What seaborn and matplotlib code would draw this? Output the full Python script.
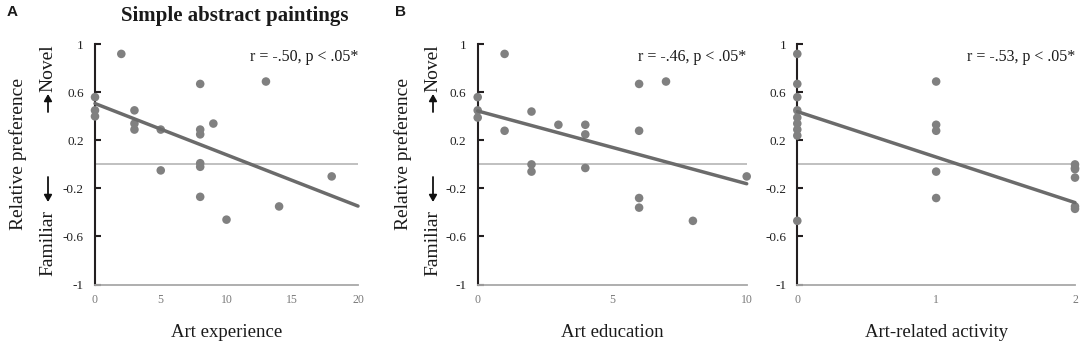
import numpy as np
import pandas as pd
import matplotlib
matplotlib.use("Agg")
import matplotlib.pyplot as plt
import seaborn as sns

# ---------------- data ----------------
exp_x = [0, 0, 0, 2, 3, 3, 3, 5, 5, 8, 8, 8, 8, 8, 8, 9, 10, 13, 14, 18]
exp_y = [0.56, 0.45, 0.40, 0.92, 0.45, 0.34, 0.29, 0.29, -0.05, 0.67,
         0.29, 0.25, 0.01, -0.02, -0.27, 0.34, -0.46, 0.69, -0.35, -0.10]

edu_x = [0, 0, 0, 1, 1, 2, 2, 2, 3, 4, 4, 4, 6, 6, 6, 6, 7, 8, 10]
edu_y = [0.56, 0.45, 0.39, 0.92, 0.28, 0.44, 0.00, -0.06, 0.33, 0.33,
         0.25, -0.03, 0.67, 0.28, -0.28, -0.36, 0.69, -0.47, -0.10]

act_x = [0, 0, 0, 0, 0, 0, 0, 0, 0, 1, 1, 1, 1, 1, 2, 2, 2, 2, 2, 2]
act_y = [0.92, 0.67, 0.56, 0.45, 0.39, 0.34, 0.29, 0.24, -0.47,
         0.69, 0.33, 0.28, -0.06, -0.28,
         0.00, -0.03, -0.04, -0.11, -0.35, -0.37]

fit_intercepts = [0.507, 0.445, 0.44]
fit_slopes = [-0.0427, -0.0606, -0.379]

x_labels = ["Art experience", "Art education", "Art-related activity"]
stat_labels = ["r = -.50, p < .05*", "r = -.46, p < .05*", "r = -.53, p < .05*"]
x_ticks = [[0, 5, 10, 15, 20], [0, 5, 10], [0, 1, 2]]
y_ticks = [-1, -0.6, -0.2, 0.2, 0.6, 1]
y_ticklabels = ["-1", "-0.6", "-0.2", "0.2", "0.6", "1"]
title = "Simple abstract paintings"
panel_letters = ["A", "B"]

# ---------------- style ----------------
sns.set_theme(style="white")
plt.rcParams["font.family"] = ["Liberation Serif", "DejaVu Serif"]

W, H = 1084, 343
fig = plt.figure(figsize=(W / 100, H / 100), dpi=100)

def fx(px):
    return px / W

def fy(py):
    return 1 - py / H

top_px, bot_px = 44.3, 284.5
axes_px = [(95, 358), (477.7, 746.7), (797.3, 1075)]

point_color = "#808080"
line_color = "#6b6b6b"

datasets = [(exp_x, exp_y), (edu_x, edu_y), (act_x, act_y)]

for i, ((xs, ys), (l, r)) in enumerate(zip(datasets, axes_px)):
    ax = fig.add_axes([fx(l), fy(bot_px), fx(r - l), (bot_px - top_px) / H])
    xmin, xmax = x_ticks[i][0], x_ticks[i][-1]
    ax.set_xlim(xmin, xmax)
    ax.set_ylim(-1, 1)
    ax.axhline(0, color="#b5b5b5", lw=1.2, zorder=1)
    df = pd.DataFrame({"x": xs, "y": ys})
    sns.scatterplot(data=df, x="x", y="y", ax=ax, color=point_color, s=38,
                    edgecolor="none", clip_on=False, zorder=3, legend=False)
    line_x = np.array([xmin, xmax], dtype=float)
    line_df = pd.DataFrame({"x": line_x, "y": fit_intercepts[i] + fit_slopes[i] * line_x})
    sns.lineplot(data=line_df, x="x", y="y", ax=ax, color=line_color, lw=2.5,
                 zorder=4, clip_on=False)
    for s in ["top", "right"]:
        ax.spines[s].set_visible(False)
    ax.spines["left"].set_color("#231f20")
    ax.spines["left"].set_linewidth(1.5)
    ax.spines["bottom"].set_color("#a8a8a8")
    ax.spines["bottom"].set_linewidth(1.3)
    ax.set_yticks(y_ticks)
    ax.set_yticklabels(y_ticklabels)
    ax.set_xticks(x_ticks[i])
    ax.tick_params(axis="y", direction="in", length=4, width=1.5, color="#231f20",
                   labelsize=9.5, pad=8, left=True, labelcolor="#222222")
    ax.tick_params(axis="x", length=0, labelsize=8.5, pad=7, labelcolor="#7a7a7a")
    ax.set_xlabel(x_labels[i], fontsize=13.5, labelpad=13, color="#1a1a1a")
    ax.set_ylabel("")
    ax.text(1.0, 0.947, stat_labels[i], transform=ax.transAxes, ha="right",
            va="center", fontsize=11.5, color="#1a1a1a")
    ax.set_facecolor("none")

# title and panel letters
fig.text(fx(235), fy(16), title, ha="center", va="center", fontsize=15,
         fontweight="bold", color="#1a1a1a")
for letter, px in zip(panel_letters, [12, 401]):
    fig.text(fx(px), fy(12), letter, ha="center", va="center", fontsize=11,
             fontweight="bold", family="Liberation Sans", color="#1a1a1a")

# rotated y labels with arrows for the first two panels
for lab_x, side_x in [(18, 48), (402.7, 433)]:
    fig.text(fx(lab_x), fy(154), "Relative preference", rotation=90,
             ha="center", va="center", fontsize=14, color="#1a1a1a")
    fig.text(fx(side_x), fy(68), "Novel", rotation=90, ha="center",
             va="center", fontsize=14, color="#1a1a1a")
    fig.text(fx(side_x), fy(243), "Familiar", rotation=90, ha="center",
             va="center", fontsize=14, color="#1a1a1a")
    fig.add_artist(matplotlib.patches.FancyArrowPatch(
        (fx(side_x), fy(112)), (fx(side_x), fy(94)), transform=fig.transFigure,
        arrowstyle="-|>,head_length=4,head_width=2.3", lw=1.3, color="#111111",
        shrinkA=0, shrinkB=0))
    fig.add_artist(matplotlib.patches.FancyArrowPatch(
        (fx(side_x), fy(177)), (fx(side_x), fy(202)), transform=fig.transFigure,
        arrowstyle="-|>,head_length=4,head_width=2.3", lw=1.3, color="#111111",
        shrinkA=0, shrinkB=0))

fig.savefig("out.png", dpi=100)
